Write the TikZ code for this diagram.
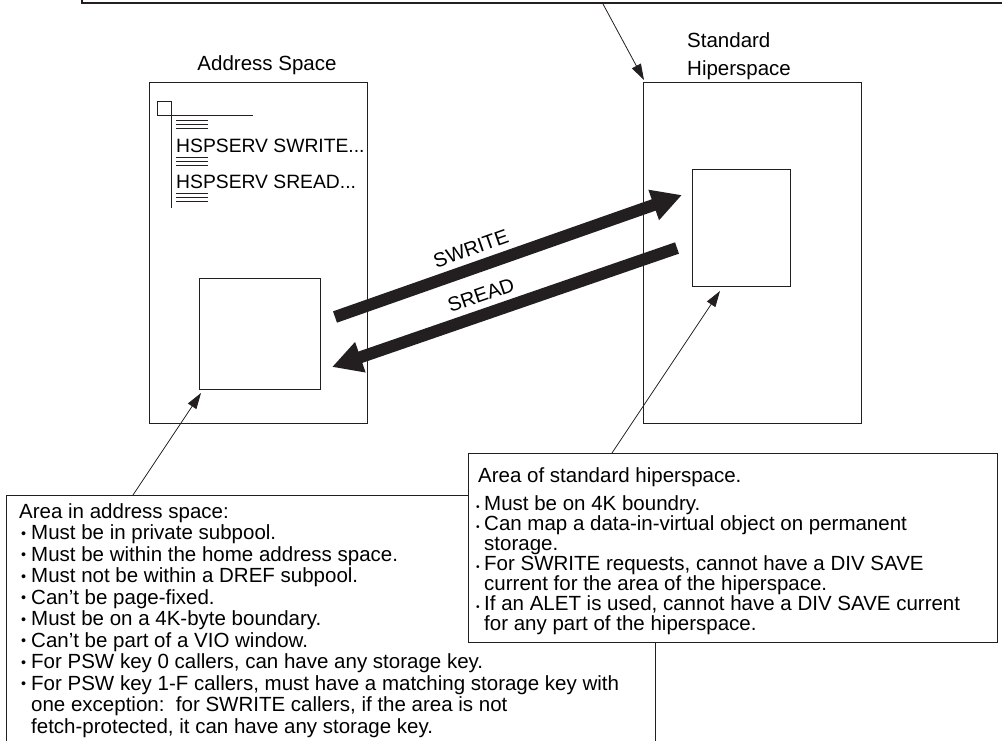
\documentclass[tikz,border=0pt]{standalone}
\usepackage{fontspec}
\setmainfont{Liberation Sans}
\usepackage{tikz}
\usetikzlibrary{arrows.meta,positioning}
\definecolor{ink}{HTML}{231F20}
\newcommand{\abul}{\makebox[10pt][l]{\raisebox{.06em}{\scalebox{.7}{\textbullet}}}}
\newcommand{\hbul}{\makebox[8pt][l]{\raisebox{-.04em}{\scalebox{.5}{\textbullet}}}}

\begin{document}
\begin{tikzpicture}[x=1pt,y=-1pt,
    box/.style={draw=ink, line width=1pt, inner sep=0pt, anchor=north west},
    note/.style={draw=ink, line width=1.3pt, fill=white, inner sep=0pt, anchor=north west},
    ptr/.style={draw=ink, line width=0.8pt, -{Triangle[length=16pt,width=10pt]}},
    flow/.style={draw=ink, line width=12pt, -{Triangle[length=30pt,width=30pt]}},
    txt/.style={font=\fontsize{20.5}{21.5}\selectfont, inner sep=0pt},
    lbl/.style={font=\fontsize{20}{22}\selectfont, inner sep=0pt}]
  \useasboundingbox (0,0) rectangle (1002,740);
  \pgfmathsetmacro{\bw}{218}
  \pgfmathsetmacro{\bh}{341}
  \node[note, line width=1.6pt, minimum width=940pt, minimum height=40pt, anchor=south west] (topnote) at (81,4) {};
  \node[txt, anchor=base] (aslbl) at (267,70) {Address Space};
  \node[txt, anchor=north west, align=left, font=\fontsize{20.5}{28}\selectfont] (hslbl) at (687,32) {Standard\\Hiperspace};
  \node[box, minimum width=\bw pt, minimum height=\bh pt] (as) at (149,82) {};
  \node[box, minimum width=\bw pt, minimum height=\bh pt] (hs) at (643,82) {};
  \node[box, minimum width=121pt, minimum height=111pt] (asarea) at (199,278) {};
  \node[box, minimum width=98pt, minimum height=117pt] (hsarea) at (692,169) {};
  % program listing
  \node[box, line width=0.8pt, minimum size=14pt] (mark) at (157,101) {};
  \draw[ink, line width=0.8pt] (mark.south east) -- ++(81,0);
  \draw[ink, line width=0.8pt] (mark.south east) -- ++(0,92);
  \foreach \y in {120,157,193}
    \foreach \d in {0,4,8}
      \draw[ink, line width=0.7pt] (176,\y+\d) -- (208,\y+\d);
  \node[lbl, font=\fontsize{19.3}{21}\selectfont, anchor=base west] (call1) at (176,152) {HSPSERV SWRITE...};
  \node[lbl, font=\fontsize{19.3}{21}\selectfont, anchor=base west] (call2) at (176,188) {HSPSERV SREAD...};
  \coordinate (wtail) at (335,317);
  \coordinate (whead) at (682,195);
  \coordinate (rtail) at (677,248);
  \coordinate (rhead) at (332,367);
  \draw[flow] (wtail) -- (whead);
  \draw[flow] (rtail) -- (rhead);
  \path (wtail) -- (whead) node[lbl, pos=.41, sloped, above=12pt] (wlbl) {SWRITE};
  \path (rhead) -- (rtail) node[lbl, pos=.45, sloped, above=12pt] (rlbl) {SREAD};
  \coordinate (tp) at (603,4);
  \draw[ptr] (tp) -- ([xshift=1pt,yshift=2pt]hs.north west);
  \node[note, minimum width=649pt, minimum height=260pt] (asnote) at (6,495) {};
  \node[txt, anchor=north west, align=left] (astext) at (19,503) {Area in address space:\\
    \hspace*{2pt}\abul Must be in private subpool.\\
    \hspace*{2pt}\abul Must be within the home address space.\\
    \hspace*{2pt}\abul Must not be within a DREF subpool.\\
    \hspace*{2pt}\abul Can’t be page-fixed.\\
    \hspace*{2pt}\abul Must be on a 4K-byte boundary.\\
    \hspace*{2pt}\abul Can’t be part of a VIO window.\\
    \hspace*{2pt}\abul For PSW key 0 callers, can have any storage key.\\
    \hspace*{2pt}\abul For PSW key 1-F callers, must have a matching storage key with\\
    \hspace*{12pt}one exception:\ \ for SWRITE callers, if the area is not\\
    \hspace*{12pt}fetch-protected, it can have any storage key.};
  \coordinate (lp) at (133,495);
  \draw[ptr] (lp) -- ([xshift=2pt,yshift=-3pt]asarea.south west);
  \node[note, minimum width=529pt, minimum height=189pt] (hsnote) at (468,453) {};
  \node[txt, anchor=north west, align=left, font=\fontsize{20.5}{20}\selectfont] (hstext) at (476,467) {\hspace*{2pt}Area of standard hiperspace.\\[8pt]
    \hbul Must be on 4K boundry.\\
    \hbul Can map a data-in-virtual object on permanent\\
    \hspace*{8pt}storage.\\
    \hbul For SWRITE requests, cannot have a DIV SAVE\\
    \hspace*{8pt}current for the area of the hiperspace.\\
    \hbul If an ALET is used, cannot have a DIV SAVE current\\
    \hspace*{8pt}for any part of the hiperspace.};
  \coordinate (rp) at (612,453);
  \draw[ptr] (rp) -- ([xshift=28pt,yshift=-4pt]hsarea.south west);
\end{tikzpicture}
\end{document}
